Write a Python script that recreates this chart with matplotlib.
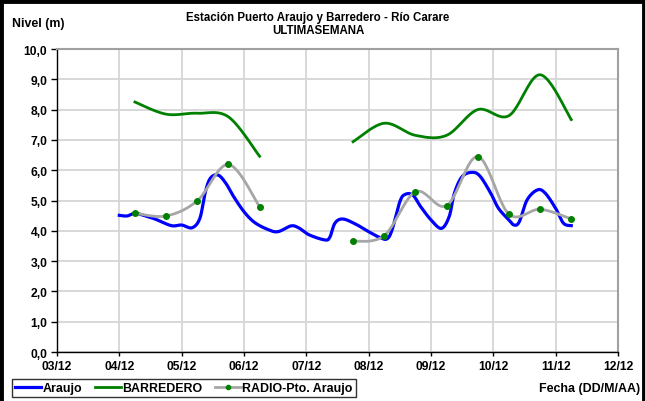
import numpy as np
import matplotlib
matplotlib.use("Agg")
import matplotlib.pyplot as plt
import matplotlib.dates as mdates
from matplotlib.ticker import FuncFormatter, MultipleLocator
from matplotlib.lines import Line2D
from datetime import datetime, timedelta

plt.rcParams['font.family'] = ['Liberation Sans', 'DejaVu Sans']
plt.rcParams['font.weight'] = 'bold'

inicio = datetime(2011, 12, 3)

# Araujo: horas desde 03/12 00:00 y nivel (m)
araujo_horas = [24, 27, 30, 34, 38, 44, 48, 52, 55, 57, 59, 62, 65, 68, 72, 76,
                81, 85, 90, 93, 97, 103, 105, 107, 110, 115, 120, 124, 127, 129,
                132, 134, 137, 140, 144, 148, 151, 153, 156, 160, 163, 167, 170,
                174, 176, 178, 181, 185, 188, 192, 195, 198]
araujo_nivel = [4.51, 4.49, 4.58, 4.49, 4.38, 4.17, 4.19, 4.10, 4.41, 5.24, 5.73,
                5.84, 5.57, 5.13, 4.63, 4.28, 4.05, 3.97, 4.16, 4.10, 3.87, 3.70,
                3.78, 4.25, 4.39, 4.22, 3.97, 3.79, 3.73, 4.03, 4.96, 5.20, 5.18,
                4.80, 4.36, 4.08, 4.47, 5.24, 5.79, 5.93, 5.79, 5.24, 4.74, 4.36,
                4.19, 4.30, 5.02, 5.35, 5.24, 4.74, 4.25, 4.17]

# lecturas de radio (06:00 y 18:00)
lecturas = ["04/12 06:00", "04/12 18:00", "05/12 06:00", "05/12 18:00",
            "06/12 06:00", "06/12 18:00", "07/12 06:00", "07/12 18:00",
            "08/12 06:00", "08/12 18:00", "09/12 06:00", "09/12 18:00",
            "10/12 06:00", "10/12 18:00", "11/12 06:00"]
barredero = [8.25, 7.85, 7.88, 7.76, 6.46, np.nan, np.nan, 6.94,
             7.55, 7.15, 7.15, 8.00, 7.80, 9.15, 7.67]
radio_araujo = [4.58, 4.49, 4.99, 6.19, 4.80, np.nan, np.nan, 3.65,
                3.84, 5.29, 4.83, 6.45, 4.55, 4.71, 4.39]


def suavizar(x, y, n=24):
    # curva tipo Catmull-Rom (linea suavizada)
    x = np.asarray(x, float)
    y = np.asarray(y, float)
    px = np.concatenate([[x[0]], x, [x[-1]]])
    py = np.concatenate([[y[0]], y, [y[-1]]])
    t = np.linspace(0, 1, n, endpoint=False)
    h00 = 2*t**3 - 3*t**2 + 1
    h10 = t**3 - 2*t**2 + t
    h01 = -2*t**3 + 3*t**2
    h11 = t**3 - t**2
    xs, ys = [], []
    for i in range(1, len(px) - 2):
        for p, out in ((px, xs), (py, ys)):
            p0, p1, p2, p3 = p[i-1:i+3]
            out.append(h00*p1 + h10*(p2 - p0)/2 + h01*p2 + h11*(p3 - p1)/2)
    xs.append([x[-1]])
    ys.append([y[-1]])
    return np.concatenate(xs), np.concatenate(ys)


def tramos(x, y):
    x = np.asarray(x, float)
    y = np.asarray(y, float)
    ok = ~np.isnan(y)
    partes, actual = [], []
    for i in range(len(y)):
        if ok[i]:
            actual.append(i)
        elif actual:
            partes.append(actual)
            actual = []
    if actual:
        partes.append(actual)
    return [(x[p], y[p]) for p in partes]


x_araujo = mdates.date2num([inicio + timedelta(hours=h) for h in araujo_horas])
x_lect = mdates.date2num([datetime.strptime("2011/" + s, "%Y/%d/%m %H:%M") for s in lecturas])

fig = plt.figure(figsize=(6.45, 4.02), dpi=100)
ax = fig.add_axes([57/645, 1 - 353/402, 561/645, 303/402])

azul, verde, gris = '#0000ff', '#008000', '#a6a6a6'

xs, ys = suavizar(x_araujo, araujo_nivel)
ax.plot(xs, ys, color=azul, lw=2.3, zorder=3)
for xt, yt in tramos(x_lect, barredero):
    xs, ys = suavizar(xt, yt)
    ax.plot(xs, ys, color=verde, lw=2.0, zorder=3)
for xt, yt in tramos(x_lect, radio_araujo):
    xs, ys = suavizar(xt, yt)
    ax.plot(xs, ys, color=gris, lw=2.0, zorder=4)
    ax.plot(xt, yt, 'o', color=verde, ms=4, zorder=5)

ax.set_xlim(mdates.date2num(inicio), mdates.date2num(inicio + timedelta(days=9)))
ax.set_ylim(0, 10)
ax.xaxis.set_major_locator(mdates.DayLocator())
ax.xaxis.set_major_formatter(mdates.DateFormatter('%d/%m'))
ax.yaxis.set_major_locator(MultipleLocator(1))
ax.yaxis.set_major_formatter(FuncFormatter(lambda v, p: f"{v:.1f}".replace('.', ',')))
ax.grid(True, color='#d6d6d6', lw=1.3)
ax.set_axisbelow(True)
for s in ('left', 'bottom'):
    ax.spines[s].set_color('black')
    ax.spines[s].set_linewidth(1.0)
for s in ('top', 'right'):
    ax.spines[s].set_color('#a0a0a0')
    ax.spines[s].set_linewidth(1.5)
ax.tick_params(axis='y', direction='out', length=4, width=1, labelsize=8.7, pad=3)
ax.tick_params(axis='x', direction='out', length=3, width=1, labelsize=8.7, pad=3)
for lab in ax.get_xticklabels() + ax.get_yticklabels():
    lab.set_fontweight('bold')

fig.text(0.493, 1 - 18/402, "Estación Puerto Araujo y Barredero - Río Carare",
         ha='center', va='center', fontsize=8.3, fontweight='bold')
fig.text(0.493, 1 - 31/402, "ULTIMASEMANA", ha='center', va='center',
         fontsize=8.3, fontweight='bold')
fig.text(12/645, 1 - 24/402, "Nivel (m)", ha='left', va='center',
         fontsize=8.9, fontweight='bold')
fig.text(640/645, 1 - 389/402, "Fecha (DD/M/AA)", ha='right', va='center',
         fontsize=8.9, fontweight='bold')

handles = [Line2D([], [], color=azul, lw=2.3),
           Line2D([], [], color=verde, lw=2.0),
           Line2D([], [], color=gris, lw=2.0, marker='o', ms=3, mfc=verde, mec=verde)]
leg = fig.legend(handles, ["Araujo", "BARREDERO", "RADIO-Pto. Araujo"],
                 ncol=3, loc='center left', bbox_to_anchor=(12/645, 1 - 389/402),
                 frameon=True, fancybox=False, edgecolor='black', fontsize=8.9,
                 handlelength=2.1, handletextpad=0.1, columnspacing=1.05,
                 borderpad=0.25, borderaxespad=0)
leg.get_frame().set_linewidth(1.0)
for t in leg.get_texts():
    t.set_fontweight('bold')

# marco negro de la figura
for xy in (([0.002, 0.002], [0, 1]), ([0, 1], [0.996, 0.996]), ([0.998, 0.998], [0, 1])):
    fig.add_artist(Line2D(xy[0], xy[1], transform=fig.transFigure, color='black', lw=3.5))

fig.savefig("out.png", dpi=100)
